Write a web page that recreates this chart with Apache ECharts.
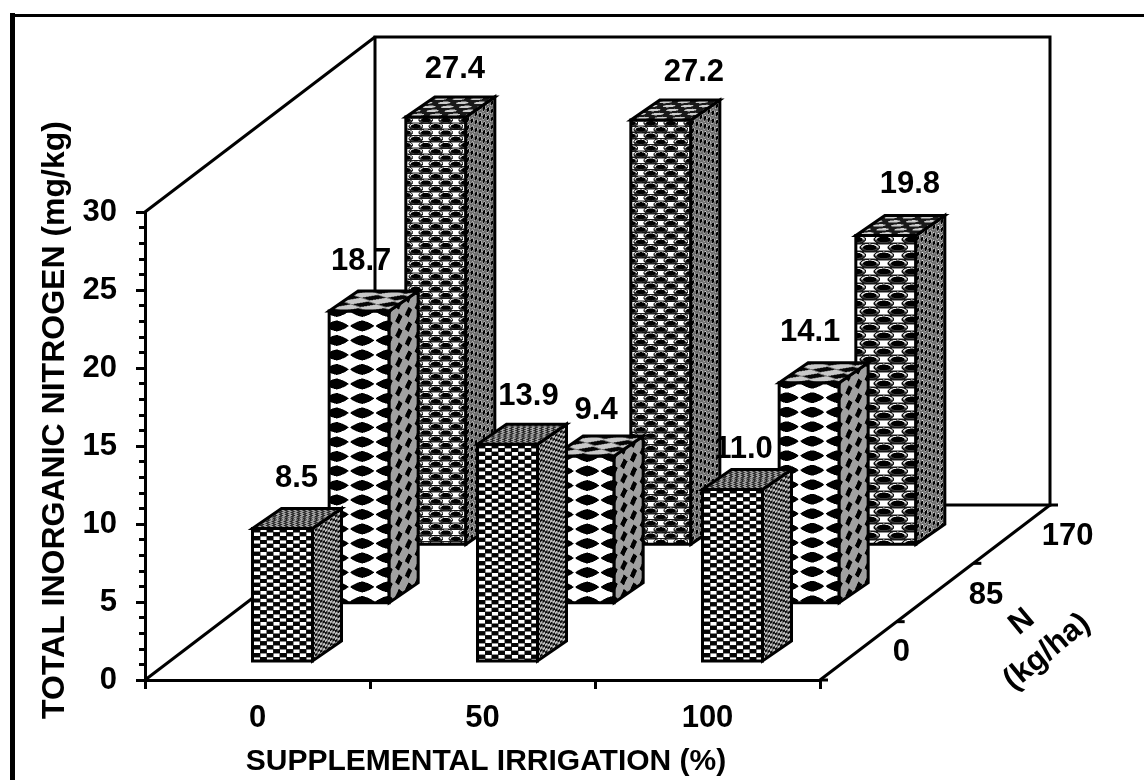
<!DOCTYPE html>
<html>
<head>
<meta charset="utf-8">
<style>html,body{margin:0;padding:0;background:#fff}#c{width:1144px;height:780px}</style>
<script src="https://cdn.jsdelivr.net/npm/echarts@6/dist/echarts.min.js"></script>
</head>
<body>
<div id="c"></div>
<script>
// ---- data ----
const irrigationLevels = ['0', '50', '100'];
const nitrogenLevels = ['0', '85', '170'];
const nitrogen0 = [8.5, 13.9, 11.0];
const nitrogen85 = [18.7, 9.4, 14.1];
const nitrogen170 = [27.4, 27.2, 19.8];
const xTitle = 'SUPPLEMENTAL IRRIGATION (%)';
const yTitle = 'TOTAL INORGANIC NITROGEN (mg/kg)';
const depthTitle = ['N', '(kg/ha)'];

// ---- projection and style ----
const FONT = '"Liberation Sans", Arial, sans-serif';
const VALUE_FONT = 'bold 31px ' + FONT;
const DEPTH_X = 230, DEPTH_Y = 175;
const stepX = DEPTH_X / nitrogenLevels.length, stepY = DEPTH_Y / nitrogenLevels.length;
const BAR_W = 60, BAR_DX = 29, BAR_DY = 20, INSET_X = 25, INSET_Y = 19;
const labelNudge = [
  [[14, -50], [21, -48], [11, -40]],
  [[2, -49], [12, -46], [1, -50]],
  [[19, -47], [33, -48], [24, -51]]
];
const depthLabelNudge = [[43, 2], [51, 3], [56, 2]];
const ovalTile = [[0, 0, 0], [0, 0, 0], [[20, 12.5], [20, 12.5], [28, 16]]];

function mod(a, n) { return ((a % n) + n) % n; }
function bw(on, a, b) { return on ? a : b; }
function checker(a, b, pa, pb) { return (Math.floor(a / pa) + Math.floor(b / pb)) % 2 === 0; }

const frontFaces = [
  (u, v) => {
    const pa = 6.6, pb = 3.9;
    if (checker(u - 1, v, pa, pb)) return 5;
    const x = mod(u - 1, pa) - pa / 2, y = mod(v, pb) - pb / 2;
    return (Math.abs(x) < pa / 2 - 0.3 && Math.abs(y) < pb / 2 - 0.25) ? 255 : 40;
  },
  (u, v, w) => {
    const x = mod(u - w / 2 - 3 + 12.75, 25.5) - 12.75, y = mod(v - 15 + 7.25, 14.5) - 7.25;
    return bw(Math.pow(Math.abs(x) / 11.8, 1.3) + Math.pow(Math.abs(y) / 5.4, 1.3) < 1, 0, 255);
  },
  (u, v, w, tile) => {
    const px = tile[0], ch = tile[1] / 2;
    const row = Math.floor(v / ch);
    const x = mod(u + (row % 2 ? px / 2 : 0) + px / 2, px) - px / 2;
    const y = mod(v, ch) - ch / 2;
    const d = (x * x) / (px * px * 0.13) + (y * y) / (ch * ch * 0.27);
    if (d < 0.45) return 0;
    if (d < 0.8) return y < 0 ? 235 : 60;
    if (d < 1.05) return 15;
    return Math.abs(y) < ch / 2 - 0.8 ? 255 : 30;
  }
];
const sideFaces = [
  (u, v) => bw(checker(u, v, 2.5, 2.5), 15, 190),
  (u, v) => {
    const x = mod(u + 4.8, 9.67) - 4.8, y = mod(v + 7.25, 14.5) - 7.25;
    return bw(Math.abs(x) / 3.6 + Math.abs(y) / 5.4 < 1, 0, 160);
  },
  (u, v) => {
    const col = Math.floor(u / 4);
    const x = mod(u, 4) - 2, y = mod(v + (col % 2 ? 4 : 0), 8) - 4;
    const d = x * x / 3 + y * y / 9;
    return d < 0.6 ? 0 : (d < 0.95 ? 235 : 110);
  }
];
const topFaces = [
  (a, h) => bw(checker(a, h, 3, 2.2), 40, 165),
  (a, h) => {
    const x = mod(a + 12.75, 25.5) - 12.75, y = mod(h + 3.3, 6.6) - 3.3;
    const d = Math.abs(x) / 11 + Math.abs(y) / 2.5;
    return d < 1 ? 5 : (d < 1.25 ? 110 : 200);
  },
  (a, h) => {
    const row = Math.floor(h / 4);
    const x = mod(a + (row % 2 ? 9 : 0), 18) - 9, y = mod(h, 4) - 2;
    const d = x * x / 36 + y * y / 1.6;
    return d < 1 ? 205 : 25;
  }
];

// paints one face of a bar into an offscreen canvas (2x2 samples per pixel)
function paintFace(x0, y0, w, h, fn) {
  const c = document.createElement('canvas');
  c.width = Math.max(1, Math.ceil(w)); c.height = Math.max(1, Math.ceil(h));
  const ctx = c.getContext('2d'), img = ctx.createImageData(c.width, c.height);
  for (let py = 0; py < c.height; py++) for (let px = 0; px < c.width; px++) {
    let s = 0;
    for (let a = 0.25; a < 1; a += 0.5) for (let b = 0.25; b < 1; b += 0.5) s += fn(px + a, py + b);
    const g = s / 4, i = (py * c.width + px) * 4;
    img.data[i] = img.data[i + 1] = img.data[i + 2] = g; img.data[i + 3] = 255;
  }
  ctx.putImageData(img, 0, 0);
  return { image: c, repeat: 'repeat', x: x0, y: y0 };
}

const rows = [nitrogen170, nitrogen85, nitrogen0];
const barData = [];
rows.forEach((vals, r) => vals.forEach((v, c) => barData.push([c, v, rows.length - 1 - r])));

const faceCache = {};
function facesFor(c, d, left, top, bottom) {
  const key = c + '_' + d + '_' + Math.round(left) + '_' + Math.round(top) + '_' + Math.round(bottom);
  if (faceCache[key]) return faceCache[key];
  const lx = Math.floor(left), ty = Math.floor(top);
  const H = bottom - top, tile = ovalTile[d][c];
  const front = paintFace(lx, ty, BAR_W + 2, H + 2, (px, py) => frontFaces[d](px + lx - left, py + ty - top, BAR_W, tile));
  const sx = Math.floor(left + BAR_W), sy = Math.floor(top - BAR_DY);
  const k = BAR_DY / BAR_DX;
  const side = paintFace(sx, sy, BAR_DX + 2, H + BAR_DY + 2, (px, py) => {
    const u = px + sx - (left + BAR_W);
    return sideFaces[d](u, py + sy - top + u * k);
  });
  const tx = Math.floor(left), tpy = Math.floor(top - BAR_DY);
  const topFace = paintFace(tx, tpy, BAR_W + BAR_DX + 2, BAR_DY + 2, (px, py) => {
    const hh = top - (py + tpy);
    return topFaces[d](px + tx - left - hh / k, hh);
  });
  return (faceCache[key] = { front, side, topFace });
}

function renderBar(params, api) {
  const c = api.value(0), v = api.value(1), d = api.value(2);
  const base = api.coord([c, 0]), head = api.coord([c, v]);
  const left = base[0] - BAR_W / 2 + INSET_X + d * stepX;
  const bottom = base[1] - INSET_Y - d * stepY;
  const top = head[1] - INSET_Y - d * stepY;
  const f = facesFor(c, d, left, top, bottom);
  const R = left + BAR_W, RB = R + BAR_DX;
  const poly = (pts, fill) => ({
    type: 'polygon', shape: { points: pts },
    style: { fill, stroke: '#000', lineWidth: 3, lineJoin: 'miter' }, silent: true
  });
  return {
    type: 'group', children: [
      poly([[left, top], [R, top], [R, bottom], [left, bottom]], f.front),
      poly([[R, top], [RB, top - BAR_DY], [RB, bottom - BAR_DY], [R, bottom]], f.side),
      poly([[left, top], [left + BAR_DX, top - BAR_DY], [RB, top - BAR_DY], [R, top]], f.topFace)
    ]
  };
}

function renderLabel(params, api) {
  const c = api.value(0), v = api.value(1), d = api.value(2);
  const base = api.coord([c, 0]), head = api.coord([c, v]);
  const cx = base[0] + INSET_X + d * stepX;
  const top = head[1] - INSET_Y - d * stepY;
  const n = labelNudge[d][c];
  return {
    type: 'text', silent: true,
    style: {
      text: v.toFixed(1), x: cx + n[0], y: top + n[1], fill: '#000',
      font: VALUE_FONT, textAlign: 'center', textVerticalAlign: 'middle'
    }
  };
}

function renderFrame(params) {
  const g = params.coordSys, L = g.x, T = g.y, Rt = g.x + g.width, B = g.y + g.height;
  const line = (pts) => ({
    type: 'polyline', shape: { points: pts }, silent: true,
    style: { fill: null, stroke: '#000', lineWidth: 3, lineJoin: 'miter' }
  });
  const kids = [
    line([[L + DEPTH_X, B - DEPTH_Y], [L + DEPTH_X, T - DEPTH_Y], [Rt + DEPTH_X, T - DEPTH_Y], [Rt + DEPTH_X, B - DEPTH_Y], [L + DEPTH_X, B - DEPTH_Y]]),
    line([[L, T], [L + DEPTH_X, T - DEPTH_Y]]),
    line([[L, B], [L + DEPTH_X, B - DEPTH_Y]]),
    line([[Rt, B], [Rt + DEPTH_X, B - DEPTH_Y]])
  ];
  for (let i = 0; i <= nitrogenLevels.length; i++) {
    const x = Rt + i * stepX, y = B - i * stepY;
    kids.push(line([[x, y], [x + 8, y]]));
  }
  nitrogenLevels.forEach((t, i) => {
    kids.push({
      type: 'text', silent: true,
      style: {
        text: t, x: Rt + (i + 0.5) * stepX + depthLabelNudge[i][0], y: B - (i + 0.5) * stepY + depthLabelNudge[i][1],
        fill: '#000', font: VALUE_FONT, textAlign: 'center', textVerticalAlign: 'middle'
      }
    });
  });
  const rot = 0.69;
  [[1022, 622], [1047, 652]].forEach((p, i) => {
    kids.push({
      type: 'text', silent: true, x: p[0], y: p[1], rotation: rot,
      style: {
        text: depthTitle[i], x: 0, y: 0, fill: '#000', font: VALUE_FONT,
        textAlign: 'center', textVerticalAlign: 'middle'
      }
    });
  });
  return { type: 'group', children: kids };
}

const chart = echarts.init(document.getElementById('c'), null, { renderer: 'canvas' });
chart.setOption({
  animation: false,
  backgroundColor: '#fff',
  graphic: [
    { type: 'line', silent: true, shape: { x1: 12.5, y1: 13, x2: 12.5, y2: 790 }, style: { stroke: '#000', lineWidth: 5 } },
    { type: 'line', silent: true, shape: { x1: 10, y1: 15.5, x2: 1150, y2: 15.5 }, style: { stroke: '#000', lineWidth: 3 } }
  ],
  grid: { left: 145, top: 212, width: 675, height: 468, containLabel: false, outerBoundsMode: 'none' },
  xAxis: {
    type: 'category', data: irrigationLevels, boundaryGap: true,
    name: xTitle, nameLocation: 'middle', nameGap: 67,
    nameTextStyle: { color: '#000', fontFamily: FONT, fontWeight: 'bold', fontSize: 30, padding: [0, 0, 0, 7] },
    axisLine: { show: true, lineStyle: { color: '#000', width: 3 } },
    axisTick: { show: true, alignWithLabel: false, length: 9, lineStyle: { color: '#000', width: 3 } },
    axisLabel: { color: '#000', fontFamily: FONT, fontWeight: 'bold', fontSize: 31, margin: 23 },
    splitLine: { show: false }
  },
  yAxis: {
    type: 'value', min: 0, max: 30, interval: 5,
    name: yTitle, nameLocation: 'middle', nameGap: 72, nameRotate: 90,
    nameTextStyle: { color: '#000', fontFamily: FONT, fontWeight: 'bold', fontSize: 32, padding: [0, 0, 0, 52] },
    axisLine: { show: true, lineStyle: { color: '#000', width: 3 } },
    axisTick: { show: true, length: 9, lineStyle: { color: '#000', width: 3 } },
    minorTick: { show: true, splitNumber: 5, length: 6, lineStyle: { color: '#000', width: 3 } },
    axisLabel: { color: '#000', fontFamily: FONT, fontWeight: 'bold', fontSize: 31, margin: 28, padding: [2, 0, 0, 0] },
    splitLine: { show: false }, minorSplitLine: { show: false }
  },
  series: [
    { type: 'custom', coordinateSystem: 'cartesian2d', silent: true, clip: false, z: 2, data: [[0, 0]], encode: { x: 0, y: 1 }, renderItem: renderFrame },
    { type: 'custom', coordinateSystem: 'cartesian2d', silent: true, clip: false, z: 3, data: barData, encode: { x: 0, y: 1 }, renderItem: renderBar },
    { type: 'custom', coordinateSystem: 'cartesian2d', silent: true, clip: false, z: 4, data: barData, encode: { x: 0, y: 1 }, renderItem: renderLabel }
  ]
});
</script>
</body>
</html>
